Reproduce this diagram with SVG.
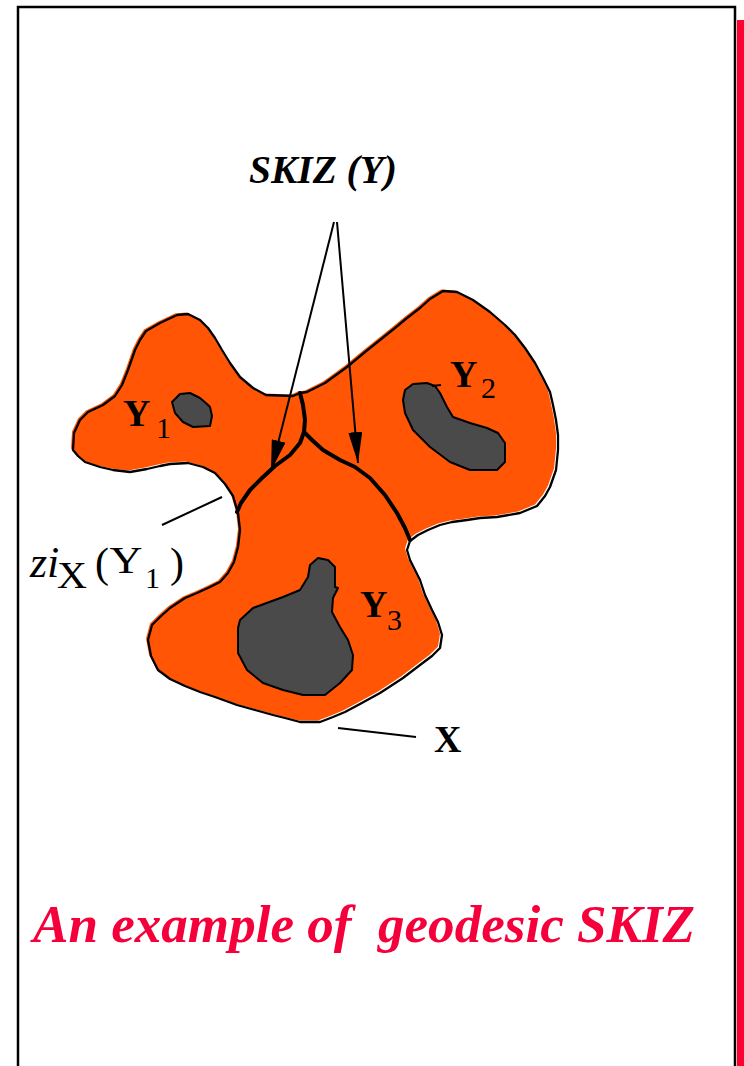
<svg xmlns="http://www.w3.org/2000/svg" width="744" height="1066" viewBox="0 0 744 1066">
<style>
.frame{fill:none;stroke:#000;stroke-width:2.5}
.setx{fill:#FF5505;stroke:none}
.outline{fill:none;stroke:#000;stroke-width:2.3;stroke-linejoin:round}
.blob{fill:#4A4A4A;stroke:#000;stroke-width:2;stroke-linejoin:round}
.skiz{fill:none;stroke:#000;stroke-width:4;stroke-linejoin:round;stroke-linecap:round}
.thin{fill:none;stroke:#000;stroke-width:2}
.lb{font-family:"Liberation Serif","Times New Roman",serif;font-weight:bold;font-size:38px;fill:#000}
.sub{font-family:"Liberation Serif","Times New Roman",serif;font-weight:normal;font-size:30px;fill:#000}
.rm{font-family:"Liberation Serif","Times New Roman",serif;fill:#000}
.title{font-family:"Liberation Serif","Times New Roman",serif;font-weight:bold;font-style:italic;font-size:53px;fill:#F5003A;white-space:pre}
</style>
<defs>
<marker id="ah" markerUnits="userSpaceOnUse" markerWidth="32" markerHeight="14" refX="31" refY="7" orient="auto">
<path d="M0,0 L31,7 L0,14 Z" fill="#000"/>
</marker>
</defs>
<g id="frame">
<polyline class="frame" points="18,1066 18,7 735,7 735,1066"/>
<rect x="737" y="20" width="7" height="1046" fill="#FF0033"/>
</g>
<g id="setX">
<path class="setx" transform="translate(-2,-1.5)" d="M73,450 L74,433 L80,420 L88,412 L103,405 L115,396 L122,385 L128,370 L135,350 L140,340 L146,331 L160,323 L177,315 L188,314 L200,320 L208,328 L215,338 L222,350 L230,363 L240,377 L253,388 L266,395 L293,396 L300,393 L307,392 L325,383 L347,367 L365,352 L380,340 L395,328 L407,318 L420,308 L430,299 L443,291 L457,292 L473,300 L490,312 L505,325 L515,335 L525,348 L535,363 L543,378 L550,392 L553,405 L556,420 L558,435 L558,450 L556,470 L550,487 L545,496 L537,506 L520,513 L497,517 L480,518 L467,520 L452,522 L440,525 L428,530 L418,535 L410,541 L407,550 L410,560 L414,568 L420,580 L425,595 L432,610 L438,622 L442,635 L440,648 L432,656 L420,665 L403,678 L380,693 L360,704 L345,712 L333,717 L320,722 L300,722 L285,718 L273,715 L255,710 L237,705 L215,697 L200,692 L185,686 L170,679 L158,670 L151,656 L148,640 L152,625 L160,617 L170,608 L185,598 L197,593 L210,587 L220,582 L228,573 L234,562 L238,547 L240,530 L238,513 L233,496 L225,484 L215,473 L203,467 L188,463 L170,464 L160,466 L147,469 L130,472 L113,470 L100,467 L85,462 L78,456 Z"/>
<path class="outline" d="M73,450 L74,433 L80,420 L88,412 L103,405 L115,396 L122,385 L128,370 L135,350 L140,340 L146,331 L160,323 L177,315 L188,314 L200,320 L208,328 L215,338 L222,350 L230,363 L240,377 L253,388 L266,395 L293,396 L300,393 L307,392 L325,383 L347,367 L365,352 L380,340 L395,328 L407,318 L420,308 L430,299 L443,291 L457,292 L473,300 L490,312 L505,325 L515,335 L525,348 L535,363 L543,378 L550,392 L553,405 L556,420 L558,435 L558,450 L556,470 L550,487 L545,496 L537,506 L520,513 L497,517 L480,518 L467,520 L452,522 L440,525 L428,530 L418,535 L410,541 L407,550 L410,560 L414,568 L420,580 L425,595 L432,610 L438,622 L442,635 L440,648 L432,656 L420,665 L403,678 L380,693 L360,704 L345,712 L333,717 L320,722 L300,722 L285,718 L273,715 L255,710 L237,705 L215,697 L200,692 L185,686 L170,679 L158,670 L151,656 L148,640 L152,625 L160,617 L170,608 L185,598 L197,593 L210,587 L220,582 L228,573 L234,562 L238,547 L240,530 L238,513 L233,496 L225,484 L215,473 L203,467 L188,463 L170,464 L160,466 L147,469 L130,472 L113,470 L100,467 L85,462 L78,456 Z"/>
</g>
<g id="Y1">
<path class="blob" d="M172,402 L180,394 L190,393 L200,398 L207,404 L210,407 L212,416 L210,426 L193,427 L183,422 L175,413 Z"/>
<text class="lb" x="123" y="426">Y<tspan class="sub" x="156" y="438">1</tspan></text>
</g>
<g id="Y2">
<path class="blob" d="M403,400 L405,390 L413,384 L427,383 L435,386 L440,393 L447,407 L453,417 L470,423 L487,428 L498,433 L505,443 L505,462 L497,470 L470,470 L450,462 L430,447 L413,430 L405,413 Z"/>
<path class="thin" d="M432,386 L441,385"/>
<text class="lb" x="450" y="387">Y<tspan class="sub" x="481" y="398">2</tspan></text>
</g>
<g id="Y3">
<path class="blob" d="M238,628 L240,620 L253,608 L283,597 L300,590 L308,577 L310,565 L318,558 L328,560 L335,567 L335,587 L338,588 L333,598 L332,612 L340,627 L348,640 L353,655 L352,670 L340,683 L325,695 L303,695 L283,690 L263,683 L247,670 L238,653 Z"/>
<text class="lb" x="360" y="617">Y<tspan class="sub" x="387" y="630">3</tspan></text>
</g>
<g id="skiz">
<path class="skiz" d="M300,393 L303,405 L305,420 L304,432 L300,443 L290,455 L275,466 L262,478 L250,490 L241,503 L237,512"/>
<path class="skiz" d="M304,432 L312,440 L323,450 L340,460 L355,467 L370,478 L385,495 L397,513 L405,528 L410,540"/>
</g>
<g id="connectors">
<line class="thin" x1="334" y1="222" x2="271" y2="471" marker-end="url(#ah)"/>
<line class="thin" x1="337" y1="222" x2="358" y2="463" marker-end="url(#ah)"/>
<line class="thin" x1="162" y1="525" x2="222" y2="497"/>
<line class="thin" x1="338" y1="728" x2="416" y2="737"/>
</g>
<g id="label-skiz">
<text x="249" y="183" font-family="Liberation Serif, Times New Roman, serif" font-weight="bold" font-style="italic" font-size="39" textLength="148" lengthAdjust="spacingAndGlyphs">SKIZ (Y)</text>
</g>
<g id="label-zi">
<text class="rm" x="30" y="577" font-size="44" font-style="italic">zi</text>
<text class="rm" x="57" y="588" font-size="38" textLength="30" lengthAdjust="spacingAndGlyphs">X</text>
<text class="rm" x="95" y="577" font-size="42">(</text>
<text class="rm" x="109.5" y="573" font-size="38" textLength="33" lengthAdjust="spacingAndGlyphs">Y</text>
<text class="sub" x="145" y="588">1</text>
<text class="rm" x="170" y="577" font-size="42">)</text>
</g>
<g id="label-X">
<text class="lb" x="434" y="752" font-size="36">X</text>
</g>
<g id="title">
<text class="title" x="33" y="942" textLength="662" lengthAdjust="spacingAndGlyphs">An example of  geodesic SKIZ</text>
</g>
</svg>
